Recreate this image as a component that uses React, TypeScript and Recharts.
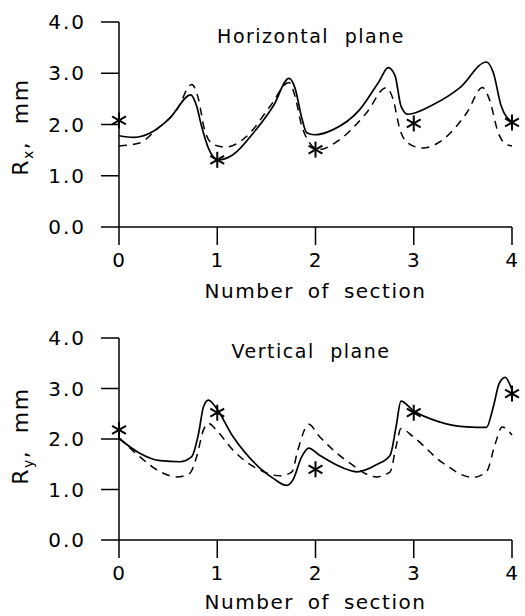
import { ComposedChart, Line, Scatter, XAxis, YAxis, Label } from 'recharts';

// values: [section, R in mm]
const hSolid = [
  [0, 1.78], [0.15, 1.75], [0.35, 1.87], [0.52, 2.13], [0.73, 2.58], [0.79, 2.36], [0.84, 1.97],
  [0.91, 1.54], [1.01, 1.31], [1.16, 1.41], [1.37, 1.84], [1.57, 2.36], [1.73, 2.9], [1.79, 2.72],
  [1.86, 2.13], [1.91, 1.84], [1.99, 1.8], [2.18, 1.9], [2.45, 2.29], [2.65, 2.85], [2.74, 3.11],
  [2.81, 2.95], [2.87, 2.36], [2.94, 2.2], [3.2, 2.39], [3.47, 2.72], [3.74, 3.22], [3.81, 3.01],
  [3.89, 2.36], [4.0, 2.05],
];
const hDashed = [
  [0, 1.58], [0.21, 1.64], [0.38, 1.9], [0.59, 2.29], [0.74, 2.78], [0.81, 2.49], [0.87, 1.9],
  [0.96, 1.61], [1.09, 1.56], [1.3, 1.77], [1.54, 2.36], [1.73, 2.82], [1.79, 2.56], [1.86, 1.97],
  [1.93, 1.67], [2.03, 1.51], [2.25, 1.71], [2.52, 2.23], [2.72, 2.72], [2.79, 2.49], [2.86, 1.9],
  [2.94, 1.64], [3.09, 1.54], [3.3, 1.71], [3.54, 2.23], [3.7, 2.72], [3.77, 2.49], [3.86, 1.84],
  [3.92, 1.64], [4.0, 1.58],
];
const hStars = [[0, 2.08], [1, 1.31], [2, 1.51], [3, 2.02], [4, 2.04]];

const vSolid = [
  [0, 2.01], [0.21, 1.72], [0.42, 1.57], [0.62, 1.55], [0.74, 1.65], [0.81, 2.11], [0.86, 2.64],
  [0.91, 2.77], [0.98, 2.64], [1.16, 2.05], [1.42, 1.45], [1.57, 1.22], [1.71, 1.08], [1.77, 1.19],
  [1.86, 1.65], [1.93, 1.82], [2.04, 1.68], [2.21, 1.49], [2.42, 1.35], [2.62, 1.49], [2.76, 1.68],
  [2.82, 2.24], [2.87, 2.75], [2.99, 2.57], [3.26, 2.34], [3.54, 2.24], [3.74, 2.23], [3.81, 2.64],
  [3.87, 3.1], [3.93, 3.22], [4.0, 2.97],
];
const vDashed = [
  [0, 2.03], [0.21, 1.65], [0.42, 1.35], [0.59, 1.25], [0.72, 1.32], [0.79, 1.65], [0.86, 2.18],
  [0.91, 2.31], [0.99, 2.18], [1.16, 1.78], [1.43, 1.39], [1.64, 1.27], [1.76, 1.35], [1.82, 1.78],
  [1.93, 2.29], [2.04, 2.05], [2.35, 1.52], [2.62, 1.25], [2.76, 1.35], [2.82, 1.85], [2.87, 2.21],
  [2.99, 2.05], [3.3, 1.52], [3.6, 1.24], [3.74, 1.35], [3.83, 1.91], [3.9, 2.24], [4.0, 2.08],
];
const vStars = [[0, 2.18], [1, 2.52], [2, 1.4], [3, 2.52], [4, 2.9]];

const xTicks = [0, 1, 2, 3, 4];
const yTicks = [0, 1, 2, 3, 4];

const FONT = '"DejaVu Sans", sans-serif';

const toRows = (pts: number[][]) => pts.map(([x, y]) => ({ x, y }));

const Star = (props: any) => {
  const { cx, cy } = props;
  const r = 8;
  const dx = r * Math.cos(Math.PI / 6);
  const dy = r * Math.sin(Math.PI / 6);
  return (
    <g stroke="#000" strokeWidth={2}>
      <line x1={cx} y1={cy - r} x2={cx} y2={cy + r} />
      <line x1={cx - dx} y1={cy - dy} x2={cx + dx} y2={cy + dy} />
      <line x1={cx - dx} y1={cy + dy} x2={cx + dx} y2={cy - dy} />
    </g>
  );
};

interface PanelProps {
  height: number;
  top: number;
  plotBottom: number;
  title: string;
  titleY: number;
  sub: string;
  labelY: number;
  solid: number[][];
  dashed: number[][];
  stars: number[][];
}

const Panel = ({ height, top, plotBottom, title, titleY, sub, labelY, solid, dashed, stars }: PanelProps) => (
  <ComposedChart width={525} height={height} margin={{ top, right: 13, left: 0, bottom: 0 }}>
    <XAxis
      type="number"
      dataKey="x"
      domain={[0, 4]}
      ticks={xTicks}
      height={height - plotBottom}
      tickSize={18}
      tickMargin={8}
      stroke="#000"
      strokeWidth={1.5}
      tick={{ fill: '#000', fontSize: 20, fontFamily: FONT, letterSpacing: 1 }}
    >
      <Label
        value="Number of section"
        position="insideBottom"
        offset={7}
        fill="#000"
        fontSize={20}
        fontFamily={FONT}
        letterSpacing={1.5}
        wordSpacing={6}
      />
    </XAxis>
    <YAxis
      type="number"
      dataKey="y"
      domain={[0, 4]}
      ticks={yTicks}
      width={119}
      tickSize={18}
      tickMargin={15}
      stroke="#000"
      strokeWidth={1.5}
      tickFormatter={(v: number) => v.toFixed(1)}
      tick={{ fill: '#000', fontSize: 20, fontFamily: FONT, letterSpacing: 2 }}
    />
    <text x={311} y={titleY} textAnchor="middle" fontSize={19} fontFamily={FONT} letterSpacing={1.5} wordSpacing={8} fill="#000">
      {title}
    </text>
    <text
      transform={`translate(28, ${labelY}) rotate(-90)`}
      textAnchor="middle"
      fontSize={22}
      fontFamily={FONT}
      letterSpacing={1.5}
      fill="#000"
    >
      R<tspan fontSize={14} dy={5}>{sub}</tspan>
      <tspan dy={-5} wordSpacing={8}>, mm</tspan>
    </text>
    <Line data={toRows(dashed)} dataKey="y" type="monotone" stroke="#000" strokeWidth={1.5} strokeDasharray="8 6" dot={false} isAnimationActive={false} />
    <Line data={toRows(solid)} dataKey="y" type="monotone" stroke="#000" strokeWidth={1.7} dot={false} isAnimationActive={false} />
    <Scatter data={toRows(stars)} dataKey="y" shape={<Star />} isAnimationActive={false} />
  </ComposedChart>
);

export default function App() {
  return (
    <div style={{ position: 'absolute', left: 0, top: 0, width: 525, height: 616, background: '#fff' }}>
      <Panel
        height={305}
        top={22}
        plotBottom={227}
        title="Horizontal plane"
        titleY={43}
        sub="x"
        labelY={127}
        solid={hSolid}
        dashed={hDashed}
        stars={hStars}
      />
      <Panel
        height={311}
        top={33}
        plotBottom={235}
        title="Vertical plane"
        titleY={53}
        sub="y"
        labelY={131}
        solid={vSolid}
        dashed={vDashed}
        stars={vStars}
      />
    </div>
  );
}
